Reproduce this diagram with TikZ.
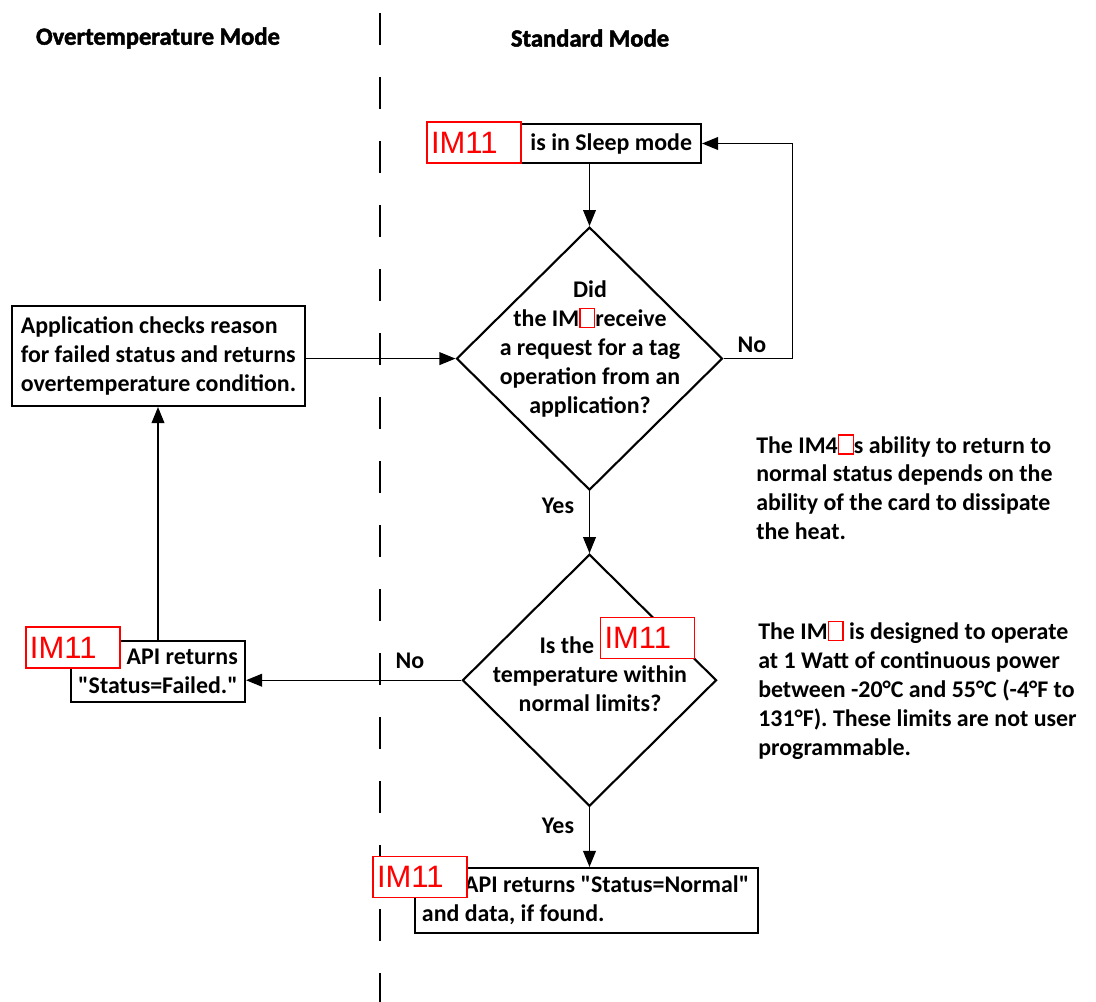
\documentclass[tikz,border=0pt]{standalone}
\usepackage{fontspec}
\setmainfont{Carlito}[Ligatures=TeXOff]
\newfontfamily\tagfont{Liberation Sans}
\usetikzlibrary{arrows.meta, positioning, shapes.geometric}
\newcommand{\gapmark}{{\color{red}\setlength{\fboxsep}{0pt}\setlength{\fboxrule}{1pt}\fbox{\rule{0pt}{12.5pt}\hspace{9.5pt}}}}

\begin{document}
\begin{tikzpicture}[
  x=0.25mm, y=-0.25mm,
  txt/.style={font=\bfseries\fontsize{17}{20.5}\selectfont},
  box/.style={rectangle, draw, line width=1.5pt, txt, inner sep=0pt},
  decision/.style={diamond, draw, line width=1.5pt, inner sep=0pt},
  imtag/.style={rectangle, draw=red, fill=white, line width=1.3pt, text=red,
                font=\tagfont\fontsize{22}{22}\selectfont,
                minimum width=23.5mm, minimum height=10.25mm,
                text width=21.5mm, align=left, inner sep=0pt},
  head/.style={font=\bfseries\addfontfeatures{FakeBold=2}\fontsize{17.5}{20}\selectfont},
  flow/.style={->, line width=0.8pt},
  >={Triangle[length=4mm, width=3.2mm]}
]
\useasboundingbox (0,0) rectangle (1096,1002);
\node[head] (ohead) at (158,38) {Overtemperature Mode};
\node[head] (shead) at (590,38) {Standard Mode};
\coordinate (dtop) at (380,13);
\coordinate (dbot) at (380,1002);
\draw[line width=2.1pt, dash pattern=on 8mm off 8mm] (dtop) -- (dbot);

\node[box, text width=51.25mm, inner xsep=2.25mm, minimum height=9.75mm, align=flush right] (sleep) at (589.5,143.5) {is in Sleep mode};
\node[decision, minimum width=66.5mm, minimum height=65.75mm, below=15.5mm of sleep] (q1) {};
\node[txt, align=center] (q1txt) at (590,349) {Did\\the IM\gapmark receive\\a request for a tag\\operation from an\\application?};
\node[decision, minimum width=63.5mm, minimum height=63mm, below=15.5mm of q1] (q2) {};
\node[txt, align=center] (q2txt) at (590,674) {Is the\hspace*{33pt}\\temperature within\\normal limits?};
\node[box, minimum width=73.25mm, minimum height=25mm, align=left] (app) at (158.5,356) {Application checks reason\\for failed status and returns\\overtemperature condition.};
\node[box, minimum width=43.5mm, minimum height=15.25mm, align=right] (failed) at (158,671.5) {API returns\\"Status=Failed."};
\node[box, text width=82.25mm, inner xsep=1.75mm, minimum height=16.25mm, align=flush left] (normal) at (586.5,900.5) {\hspace*{30pt}API returns "Status=Normal"\\and data, if found.};

\node[txt, anchor=west, align=left, inner sep=0pt] (note1) at (756,487) {The IM4\gapmark s ability to return to\\normal status depends on the\\ability of the card to dissipate\\the heat.};
\node[txt, anchor=west, align=left, inner sep=0pt] (note2) at (758,690) {The IM\gapmark\ is designed to operate\\at 1 Watt of continuous power\\between -20°C and 55°C (-4°F to\\131°F). These limits are not user\\programmable.};

\node[txt] (no1) at (752,345) {No};
\node[txt] (yes1) at (558,506) {Yes};
\node[txt] (no2) at (410,661) {No};
\node[txt] (yes2) at (558,826) {Yes};

\draw[flow] (sleep) -- (q1);
\draw[flow] (q1.east) -- ++(69,0) |- (sleep.east);
\draw[flow] (q1.west -| app.east) -- (q1.west);
\draw[flow] (q1) -- (q2);
\draw[flow] (q2.west) -- (q2.west -| failed.east);
\draw[flow] (failed.north) -- (failed.north |- app.south);
\draw[flow] (q2.south) -- (q2.south |- normal.north);

\node[imtag] (tag1) at (474,142.5) {IM11};
\node[imtag] (tag2) at (73,647.5) {IM11};
\node[imtag] (tag3) at (647.5,638) {IM11};
\node[imtag] (tag4) at (420,877) {IM11};
\end{tikzpicture}
\end{document}
